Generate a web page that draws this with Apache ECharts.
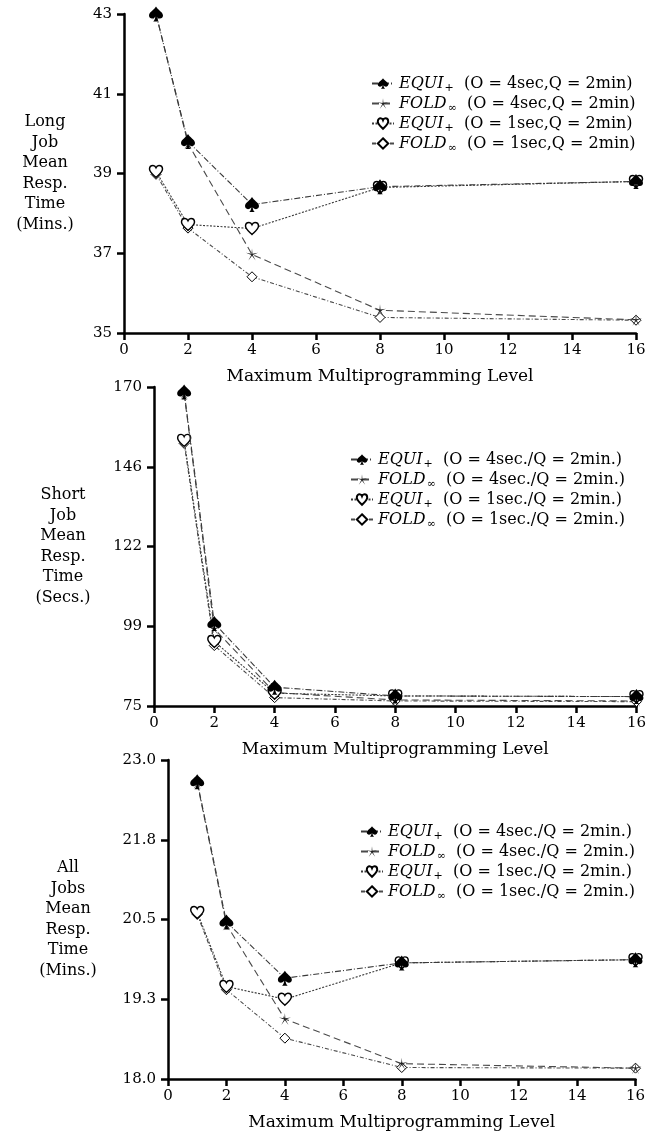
<!DOCTYPE html>
<html>
<head>
<meta charset="utf-8">
<script src="https://cdn.jsdelivr.net/npm/echarts@6/dist/echarts.min.js"></script>
<style>
  html, body { margin: 0; padding: 0; background: #fff; }
  #chart { width: 649px; height: 1137px; }
</style>
</head>
<body>
<div id="chart"></div>
<script>
// Maximum multiprogramming levels (x axis)
const levels = [1, 2, 4, 8, 16];

// Long jobs: mean response time (minutes)
const longEquiO4 = [43.0, 39.8, 38.22, 38.67, 38.8];
const longFoldO4 = [43.0, 39.75, 36.97, 35.57, 35.33];
const longEquiO1 = [39.05, 37.72, 37.62, 38.65, 38.8];
const longFoldO1 = [38.98, 37.63, 36.41, 35.39, 35.32];

// Short jobs: mean response time (seconds)
const shortEquiO4 = [168.5, 99.6, 80.6, 78.0, 77.8];
const shortFoldO4 = [168.0, 98.0, 79.0, 76.8, 76.5];
const shortEquiO1 = [154.1, 94.2, 78.8, 78.0, 77.8];
const shortFoldO1 = [153.2, 93.0, 77.5, 76.5, 76.3];

// All jobs: mean response time (minutes)
const allEquiO4 = [22.66, 20.46, 19.58, 19.82, 19.87];
const allFoldO4 = [22.64, 20.42, 18.94, 18.24, 18.17];
const allEquiO1 = [20.61, 19.45, 19.25, 19.82, 19.87];
const allFoldO1 = [20.58, 19.40, 18.64, 18.18, 18.17];

// y tick positions and their printed labels
const longTicks = [35, 37, 39, 41, 43];
const longTickLabels = ['35', '37', '39', '41', '43'];
const shortTicks = [75, 98.75, 122.5, 146.25, 170];
const shortTickLabels = ['75', '99', '122', '146', '170'];
const allTicks = [18, 19.25, 20.5, 21.75, 23];
const allTickLabels = ['18.0', '19.3', '20.5', '21.8', '23.0'];

// axis titles
const xTitle = 'Maximum Multiprogramming Level';
const longTitle = 'Long\nJob\nMean\nResp.\nTime\n(Mins.)';
const shortTitle = 'Short\nJob\nMean\nResp.\nTime\n(Secs.)';
const allTitle = 'All\nJobs\nMean\nResp.\nTime\n(Mins.)';

// legend captions: [policy, subscript, parameters]
const longLegend = [
  ['EQUI', '+', '(O = 4sec,Q = 2min)'],
  ['FOLD', '∞', '(O = 4sec,Q = 2min)'],
  ['EQUI', '+', '(O = 1sec,Q = 2min)'],
  ['FOLD', '∞', '(O = 1sec,Q = 2min)']
];
const shortLegend = [
  ['EQUI', '+', '(O = 4sec./Q = 2min.)'],
  ['FOLD', '∞', '(O = 4sec./Q = 2min.)'],
  ['EQUI', '+', '(O = 1sec./Q = 2min.)'],
  ['FOLD', '∞', '(O = 1sec./Q = 2min.)']
];
const allLegend = shortLegend;

const FONT = 'DejaVu Serif';

// marker shapes
const SPADE = 'path://M50,0 C40,20 0,38 0,60 C0,78 20,86 36,76 C39,74 42,71 45,67 C44,82 40,92 30,100 L70,100 C60,92 56,82 55,67 C58,71 61,74 64,76 C80,86 100,78 100,60 C100,38 60,20 50,0 Z';
const HEART = 'path://M50,96 C30,76 2,56 2,30 C2,12 14,2 28,2 C38,2 46,9 50,19 C54,9 62,2 72,2 C86,2 98,12 98,30 C98,56 70,76 50,96 Z';
const STAR = 'path://M50,0 L54,42 L98,35 L56,52 L79,95 L50,58 L21,95 L44,52 L2,35 L46,42 Z';
const DIAMOND = 'path://M50,0 L100,50 L50,100 L0,50 Z';

const styles = [
  { symbol: SPADE, symbolSize: [14, 15], item: { color: '#000' }, line: { color: '#3a3a3a', width: 1.1, type: [6, 2, 1, 2] }, z: 5 },
  { symbol: STAR, symbolSize: 12, item: { color: '#222' }, line: { color: '#4a4a4a', width: 1.1, type: [7, 4] }, z: 3 },
  { symbol: HEART, symbolSize: [13, 12], item: { color: '#fff', borderColor: '#000', borderWidth: 1.4 }, line: { color: '#3a3a3a', width: 1.1, type: [2, 1.5] }, z: 4 },
  { symbol: DIAMOND, symbolSize: 10, item: { color: '#fff', borderColor: '#000', borderWidth: 1 }, line: { color: '#4a4a4a', width: 1.1, type: [4, 2, 1, 2] }, z: 2 }
];

const panels = [
  { key: 'long', series: [longEquiO4, longFoldO4, longEquiO1, longFoldO1], ticks: longTicks, labels: longTickLabels,
    min: 35, max: 43, title: longTitle, legend: longLegend,
    grid: { left: 124, top: 14, width: 512, height: 319 }, yNameGap: 79, legendPos: { left: 366, top: 70 } },
  { key: 'short', series: [shortEquiO4, shortFoldO4, shortEquiO1, shortFoldO1], ticks: shortTicks, labels: shortTickLabels,
    min: 75, max: 170, title: shortTitle, legend: shortLegend,
    grid: { left: 154, top: 387, width: 485, height: 319 }, yNameGap: 91, legendPos: { left: 345, top: 446 } },
  { key: 'all', series: [allEquiO4, allFoldO4, allEquiO1, allFoldO1], ticks: allTicks, labels: allTickLabels,
    min: 18, max: 23, title: allTitle, legend: allLegend,
    grid: { left: 168, top: 760, width: 467.5, height: 319 }, yNameGap: 100, legendPos: { left: 355, top: 818 } }
];

const axisLine = { show: true, lineStyle: { color: '#000', width: 2.5 } };
const axisTick = { show: true, length: 7, inside: false, lineStyle: { color: '#000', width: 2.5 } };
const labelStyle = { color: '#000', fontFamily: FONT, fontSize: 15 };

const grid = [], xAxis = [], yAxis = [], series = [], legend = [];

panels.forEach(function (p, pi) {
  grid.push(Object.assign({ containLabel: false }, p.grid));
  xAxis.push({
    type: 'value', gridIndex: pi, min: 0, max: 16, interval: 2,
    axisLine: axisLine, axisTick: axisTick, splitLine: { show: false },
    axisLabel: Object.assign({ margin: 10 }, labelStyle),
    name: xTitle, nameLocation: 'middle', nameGap: 35,
    nameTextStyle: { color: '#000', fontFamily: FONT, fontSize: 17 }
  });
  const tickVals = p.ticks, tickLabs = p.labels;
  yAxis.push({
    type: 'value', gridIndex: pi, min: p.min, max: p.max,
    axisLine: axisLine,
    axisTick: Object.assign({ customValues: tickVals }, axisTick),
    splitLine: { show: false },
    axisLabel: Object.assign({
      margin: 12, customValues: tickVals,
      formatter: function (v) {
        const i = tickVals.findIndex(function (t) { return Math.abs(t - v) < 1e-6; });
        return i >= 0 ? tickLabs[i] : '';
      }
    }, labelStyle),
    name: p.title, nameLocation: 'middle', nameRotate: 0, nameGap: p.yNameGap,
    nameTextStyle: { color: '#000', fontFamily: FONT, fontSize: 16, lineHeight: 20.5, align: 'center', verticalAlign: 'middle', padding: [0, 0, 6, 0] }
  });
  const names = [];
  p.series.forEach(function (vals, si) {
    const st = styles[si];
    const name = p.key + '-' + si;
    names.push(name);
    series.push({
      name: name, type: 'line', xAxisIndex: pi, yAxisIndex: pi,
      data: levels.map(function (x, k) { return [x, vals[k]]; }),
      symbol: st.symbol, symbolSize: st.symbolSize, showAllSymbol: true,
      itemStyle: st.item, lineStyle: st.line, z: st.z, animation: false
    });
  });
  const cap = p.legend;
  legend.push({
    orient: 'vertical', left: p.legendPos.left, top: p.legendPos.top,
    data: names, itemWidth: 22, itemHeight: 13, itemGap: 1.5, selectedMode: false,
    formatter: function (n) {
      const c = cap[Number(n.split('-')[1])];
      return '{m|' + c[0] + '}{s|' + c[1] + '}  {t|' + c[2] + '}';
    },
    textStyle: {
      color: '#000', fontFamily: FONT, fontSize: 16, lineHeight: 17,
      rich: {
        m: { fontFamily: FONT, fontStyle: 'italic', fontSize: 16, color: '#000' },
        s: { fontFamily: FONT, fontSize: 11, color: '#000', padding: [9, 0, 0, 1] },
        t: { fontFamily: FONT, fontSize: 16, color: '#000' }
      }
    }
  });
});

const chart = echarts.init(document.getElementById('chart'), null, { renderer: 'canvas' });
chart.setOption({
  backgroundColor: '#fff',
  animation: false,
  grid: grid, xAxis: xAxis, yAxis: yAxis, legend: legend, series: series
});
</script>
</body>
</html>
